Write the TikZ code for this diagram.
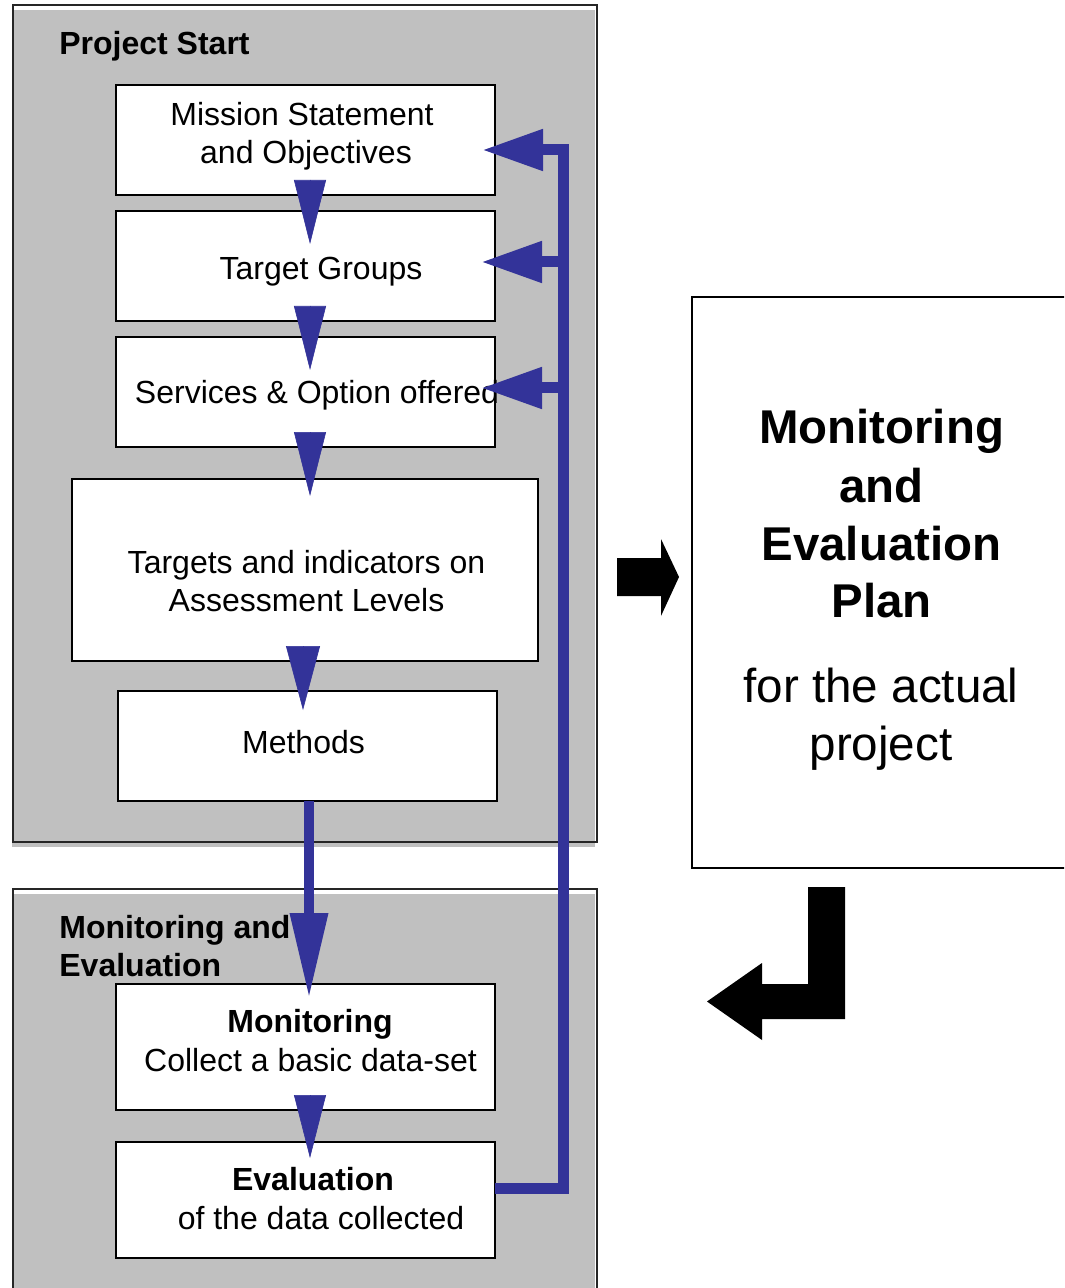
\documentclass[tikz,border=0pt]{standalone}
\usepackage{fontspec}
\setmainfont{Liberation Sans}
\usetikzlibrary{arrows.meta,calc}
\definecolor{flowblue}{RGB}{51,51,153}
\definecolor{panelgray}{RGB}{192,192,192}
\begin{document}
\begin{tikzpicture}[x=0.5pt,y=-0.5pt,
  box/.style={draw=black, line width=1pt, fill=white, inner sep=0pt, outer sep=0pt, anchor=north west},
  txt/.style={font=\fontsize{16}{19}\selectfont, inner sep=0pt, anchor=base},
  btxt/.style={font=\fontsize{16}{19}\selectfont\bfseries, inner sep=0pt, anchor=base},
  hdr/.style={font=\fontsize{16}{19}\selectfont\bfseries, inner sep=0pt, anchor=base west},
  bigb/.style={font=\fontsize{23.7}{28}\selectfont\bfseries, inner sep=0pt, anchor=base},
  bigr/.style={font=\fontsize{23.8}{28}\selectfont, inner sep=0pt, anchor=base},
  dflow/.style={draw=flowblue, fill=flowblue, line width=0.3pt},
  fb/.style={draw=flowblue, line width=5.5pt, line join=miter},
  fbtip/.style={-{Triangle[length=30.5pt,width=19.5pt]}},
  block/.style={fill=black}]
\useasboundingbox (0,0) rectangle (1064,1288);
\clip (0,0) rectangle (1064,1288);

% panels
\fill[panelgray] (12,10) rectangle (595,847);
\draw[black!85, line width=1pt] (13,5) rectangle (597,842);
\fill[panelgray] (12,894) rectangle (595,1300);
\draw[black!85, line width=1pt] (13,889) rectangle (597,1300);

\node[hdr] (hstart) at (59,55) {Project Start};
\node[hdr] (hme1) at (59,938) {Monitoring and};
\node[hdr] (hme2) at (59,976) {Evaluation};

% boxes
\node[box, minimum width=189.5pt, minimum height=55pt] (mis) at (116,85) {};
\node[box, minimum width=189.5pt, minimum height=55pt] (tg) at (116,211) {};
\node[box, minimum width=189.5pt, minimum height=55pt] (svc) at (116,337) {};
\node[box, minimum width=233pt, minimum height=91pt] (tgi) at (72,479) {};
\node[box, minimum width=189.5pt, minimum height=55pt] (meth) at (118,691) {};
\node[box, minimum width=189.5pt, minimum height=63pt] (mon) at (116,984) {};
\node[box, minimum width=189.5pt, minimum height=58pt] (eva) at (116,1142) {};
\node[box, minimum width=190pt, minimum height=285.5pt] (plan) at (692,297) {};

% texts
\node[txt] (t1a) at (302,126) {Mission Statement};
\node[txt] (t1b) at (306,164) {and Objectives};
\node[txt] (t2) at (321,280) {Target Groups};
\node[txt] (t3) at (317,404) {Services \& Option offered};
\node[txt] (t4a) at (306.5,573) {Targets and indicators on};
\node[txt] (t4b) at (306.5,611) {Assessment Levels};
\node[txt] (t5) at (303.5,753) {Methods};
\node[btxt] (t6a) at (310,1032) {Monitoring};
\node[txt] (t6b) at (310.5,1071) {Collect a basic data-set};
\node[btxt] (t7a) at (313,1190) {Evaluation};
\node[txt] (t7b) at (321,1229) {of the data collected};

\node[bigb] (p1) at (881.5,444) {Monitoring};
\node[bigb] (p2) at (881.5,502) {and};
\node[bigb] (p3) at (881.5,560) {Evaluation};
\node[bigb] (p4) at (881.5,617) {Plan};
\node[bigr] (p5) at (881,702) {for the actual};
\node[bigr] (p6) at (881,760) {project};

% blue down arrows
\draw[dflow, -{Triangle[length=32pt,width=16pt]}] ($(mis.south)+(4.5,-15)$) -- ($(tg.north)+(4.5,33)$);
\draw[dflow, -{Triangle[length=32pt,width=16pt]}] ($(tg.south)+(4.5,-15)$) -- ($(svc.north)+(4.5,33)$);
\draw[dflow, -{Triangle[length=32pt,width=16pt]}] ($(svc.south)+(4.5,-15)$) -- ($(tgi.north)+(5,17)$);
\draw[dflow, -{Triangle[length=32pt,width=17pt]}] ($(tgi.south)+(-2,-15)$) -- ($(meth.north)+(-4.5,19)$);
\draw[draw=flowblue, fill=flowblue, line width=5pt, -{Triangle[length=42.5pt,width=18pt]}] ($(meth.south)+(1.5,0)$) -- ($(mon.north)+(3.5,14)$);
\draw[dflow, -{Triangle[length=31.5pt,width=16pt]}] ($(mon.south)+(4.5,-15)$) -- ($(eva.north)+(4.5,16)$);

% feedback loop
\coordinate (fbB) at (563,1188);
\coordinate (fbT) at (563,150);
\coordinate (fb2) at (563,262);
\coordinate (fb3) at (563,388);
\draw[fb, fbtip] ($(eva.east)+(0,-12)$) -- (fbB) -- (fbT) -- ($(mis.east)+(-13,10)$);
\draw[fb, fbtip] (fb2) -- ($(tg.east)+(-14,-4)$);
\draw[fb, fbtip] (fb3) -- ($(svc.east)+(-14,-4)$);

% black block arrows
\fill[block] (617,558) -- (661,558) -- (661,539) -- (679,577) -- (661,616) -- (661,596) -- (617,596) -- cycle;
\fill[block] (808,887) -- (845,887) -- (845,1019) -- (762,1019) -- (762,1040) -- (707,1001.5) -- (762,963) -- (762,984) -- (808,984) -- cycle;
\end{tikzpicture}
\end{document}
